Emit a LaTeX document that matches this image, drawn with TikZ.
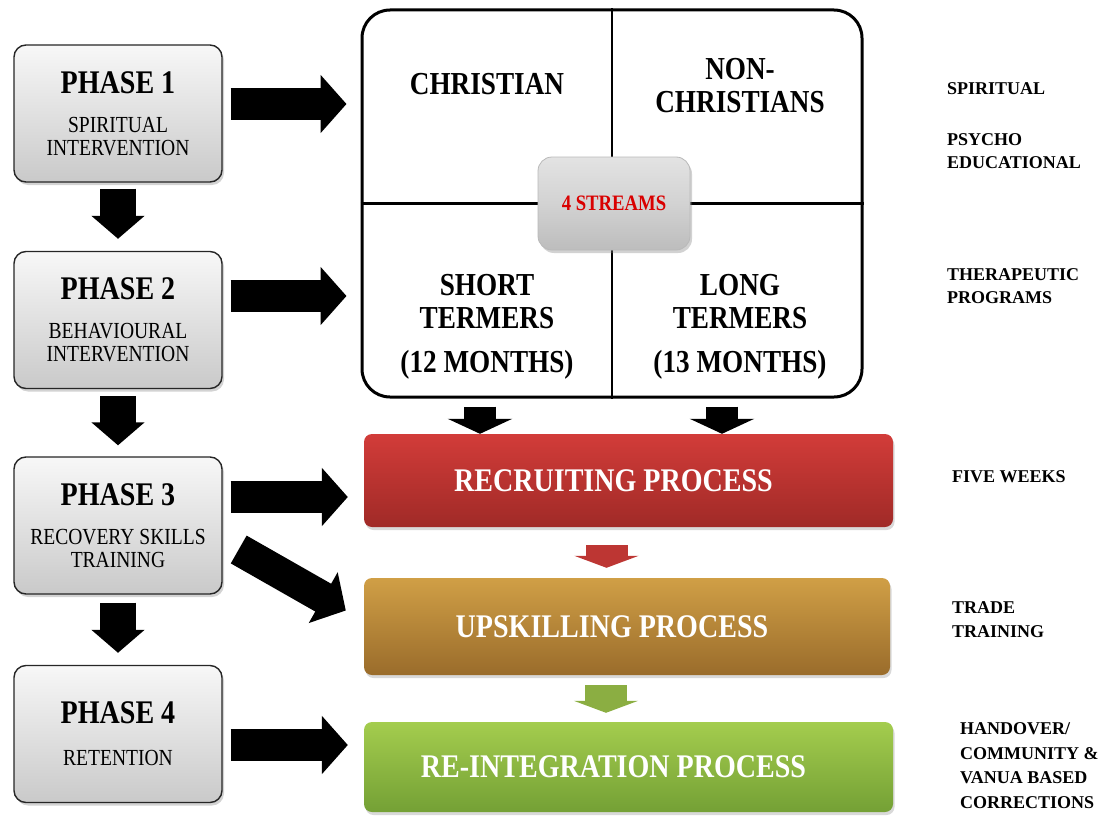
\documentclass[tikz,border=0pt]{standalone}
\usepackage{fontspec}
\setmainfont{Liberation Serif}
\newfontfamily\condfont[FakeStretch=0.85]{Liberation Serif}
\usetikzlibrary{arrows.meta,shadows}

\definecolor{recA}{HTML}{D23C39}
\definecolor{recB}{HTML}{A02A27}
\definecolor{upA}{HTML}{D09F46}
\definecolor{upB}{HTML}{9A6C2B}
\definecolor{reiA}{HTML}{A4CD4E}
\definecolor{reiB}{HTML}{74A035}

% process captions sit a little left of the box centre
\newcommand{\leftset}[1]{\hspace*{-30pt}#1}

\begin{document}
\begin{tikzpicture}[x=1pt,y=-1pt,
  phasebox/.style={draw=black!85, line width=1.4pt, rounded corners=12pt,
    top color=gray!6, bottom color=gray!42,
    drop shadow={opacity=0.35, shadow xshift=2pt, shadow yshift=-3pt},
    minimum width=208pt, minimum height=137pt, inner sep=0pt, align=center,
    font=\condfont\fontsize{23}{23}\selectfont},
  quad/.style={font=\condfont\bfseries\fontsize{32}{33}\selectfont, align=center, anchor=base, inner sep=0pt},
  procbox/.style={rounded corners=8pt, inner sep=0pt, text=white,
    font=\condfont\bfseries\fontsize{33}{36}\selectfont,
    drop shadow={opacity=0.3, shadow xshift=1.5pt, shadow yshift=-3pt}},
  sidelabel/.style={font=\bfseries\fontsize{18}{25}\selectfont, align=left, anchor=base west, inner sep=0pt},
  blk/.style={line width=32pt, draw=black, -{Triangle[length=26pt,width=57pt]}},
  blkdown/.style={line width=36pt, draw=black, -{Triangle[length=23pt,width=52pt]}},
  blkshort/.style={line width=32pt, draw=black, -{Triangle[length=15pt,width=64pt]}},
  colarrow/.style={line width=42pt, -{Triangle[length=12pt,width=64pt]}},
]
\useasboundingbox (0,0) rectangle (1106,816);

% phase column
\node[phasebox] (p1) at (118,113.5) {{\bfseries\fontsize{33}{36}\selectfont PHASE 1}\\[16pt]SPIRITUAL\\INTERVENTION};
\node[phasebox] (p2) at (118,320) {{\bfseries\fontsize{33}{36}\selectfont PHASE 2}\\[16pt]BEHAVIOURAL\\INTERVENTION};
\node[phasebox] (p3) at (118,525.5) {{\bfseries\fontsize{33}{36}\selectfont PHASE 3}\\[16pt]RECOVERY SKILLS\\TRAINING};
\node[phasebox] (p4) at (118,734) {{\bfseries\fontsize{33}{36}\selectfont PHASE 4}\\[19pt]RETENTION};

\draw[blkdown] ([yshift=-6pt]p1.south) -- ([yshift=12pt]p2.north);
\draw[blkdown] ([yshift=-7pt]p2.south) -- ([yshift=11pt]p3.north);
\draw[blkdown] ([yshift=-8pt]p3.south) -- ([yshift=12pt]p4.north);

% four streams block
\node[draw=black, line width=3pt, rounded corners=28pt, minimum width=500pt,
      minimum height=387pt, inner sep=0pt, fill=white] (big) at (612,203.5) {};
\draw[line width=2.8pt] (big.north) -- (big.south);
\draw[line width=2.8pt] (big.west) -- (big.east);

% multi-line nodes sit on the baseline of their last line
\node[quad] (chr) at (487,95) {CHRISTIAN};
\node[quad] (nonchr) at (740,112) {NON-\\CHRISTIANS};
\node[quad] (short) at (487,372) {SHORT\\TERMERS\\[11pt](12 MONTHS)};
\node[quad] (long) at (740,372) {LONG\\TERMERS\\[11pt](13 MONTHS)};

\node[rounded corners=14pt, draw=gray!55, line width=0.8pt,
      top color=gray!22, bottom color=gray!52, middle color=gray!35,
      minimum width=152pt, minimum height=93pt, inner sep=0pt,
      drop shadow={opacity=0.35, shadow xshift=2pt, shadow yshift=-3pt},
      text=red!85!black, font=\condfont\bfseries\fontsize{22}{24}\selectfont]
      (streams) at (614,203.5) {4 STREAMS};

% process blocks
\node[procbox, top color=recA, bottom color=recB, minimum width=529pt, minimum height=93pt] (rec) at (628.5,480.5) {\leftset{RECRUITING PROCESS}};
\node[procbox, top color=upA, bottom color=upB, minimum width=526pt, minimum height=97pt] (up) at (627,626.5) {\leftset{UPSKILLING PROCESS}};
\node[procbox, top color=reiA, bottom color=reiB, minimum width=529pt, minimum height=90pt] (rei) at (628.5,767) {\leftset{RE-INTEGRATION PROCESS}};

\draw[blkshort] ([xshift=-132pt,yshift=-8pt]big.south) coordinate (a1) -- (a1 |- rec.north);
\draw[blkshort] ([xshift=110pt,yshift=-8pt]big.south) coordinate (a2) -- (a2 |- rec.north);

\draw[colarrow, draw=recA!90!black] ([xshift=-22pt,yshift=-18pt]rec.south) coordinate (c1) -- ([yshift=10pt]c1 |- up.north);
\draw[colarrow, draw=reiA!85!black] ([xshift=-21pt,yshift=-10pt]up.south) coordinate (c2) -- ([yshift=9pt]c2 |- rei.north);

% phase to stream / process arrows
\draw[blk] ([xshift=8pt,yshift=9.5pt]p1.east) coordinate (s1) -- ([xshift=-14pt]big.west |- s1);
\draw[blk] ([xshift=8pt,yshift=24pt]p2.east) coordinate (s2) -- ([xshift=-14pt]big.west |- s2);
\draw[blk] ([xshift=8pt,yshift=28.5pt]p3.east) coordinate (s3) -- ([xshift=-16pt]rec.west |- s3);
\draw[blk] ([xshift=16pt,yshift=-24pt]p3.east) -- ([xshift=-18pt,yshift=16pt]up.west);
\draw[blk] ([xshift=8pt,yshift=-11pt]p4.east) coordinate (s4) -- ([xshift=-16pt]rei.west |- s4);

% side notes
\node[sidelabel] (l1) at (947,95) {SPIRITUAL};
\node[sidelabel, font=\bfseries\fontsize{18}{23}\selectfont] (l2) at (947,168) {PSYCHO\\EDUCATIONAL};
\node[sidelabel, font=\bfseries\fontsize{18}{23}\selectfont] (l3) at (947,303) {THERAPEUTIC\\PROGRAMS};
\node[sidelabel] (l4) at (952,482) {FIVE WEEKS};
\node[sidelabel, font=\bfseries\fontsize{18}{24}\selectfont] (l5) at (952,637) {TRADE\\TRAINING};
\node[sidelabel, font=\bfseries\fontsize{18}{24.5}\selectfont] (l6) at (960,808) {HANDOVER/\\COMMUNITY \&\\VANUA BASED\\CORRECTIONS};
\end{tikzpicture}
\end{document}
